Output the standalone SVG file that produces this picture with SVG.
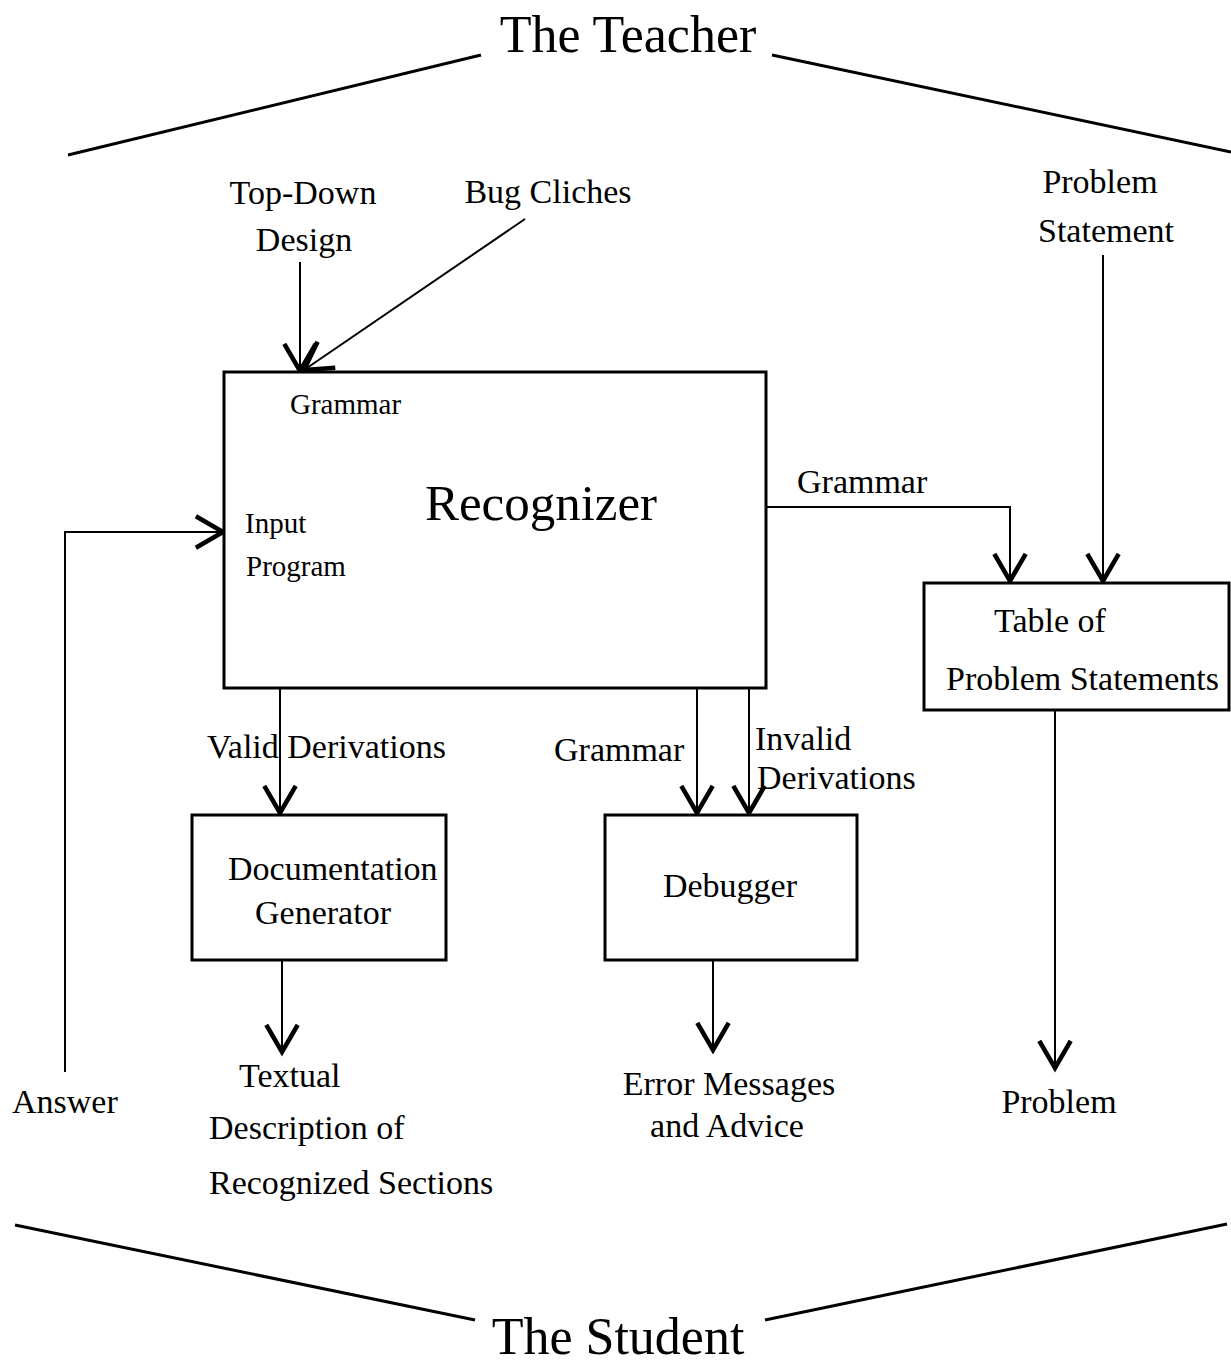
<svg xmlns="http://www.w3.org/2000/svg" width="1231" height="1366" viewBox="0 0 1231 1366">
  <defs>
    <marker id="vee" markerUnits="userSpaceOnUse" markerWidth="40" markerHeight="40" viewBox="-22 -14 26 28" refX="0" refY="0" orient="auto" overflow="visible">
      <path d="M-19,-11 L0,0 L-19,11" fill="none" stroke="#000" stroke-width="3.2" stroke-linejoin="miter"/>
    </marker>
    <style>
      text { font-family: "Liberation Serif", "Times New Roman", serif; fill: #000; }
      .lbl { font-size: 34px; }
      .small { font-size: 29px; }
      .title { font-size: 52px; text-anchor: middle; }
      .mid { text-anchor: middle; }
      .box { fill: #fff; stroke: #000; stroke-width: 3; }
      .wire { fill: none; stroke: #000; stroke-width: 2; marker-end: url(#vee); }
      .frame { fill: none; stroke: #000; stroke-width: 3; }
    </style>
  </defs>

  <rect x="0" y="0" width="1231" height="1366" fill="#fff"/>

  <!-- actor frames -->
  <g id="teacher">
    <polyline class="frame" points="68,155 481,55"/>
    <polyline class="frame" points="772,55 1231,152"/>
    <text class="title" x="628" y="52">The Teacher</text>
  </g>
  <g id="student">
    <polyline class="frame" points="15,1225 475,1320"/>
    <polyline class="frame" points="765,1320 1227,1224"/>
    <text class="title" x="618" y="1354">The Student</text>
  </g>

  <!-- connectors -->
  <g id="connectors">
    <path class="wire" d="M300,262 L300,371"/>
    <path class="wire" d="M525,219 L304,370"/>
    <path class="wire" d="M65,1072 L65,532 L223,532"/>
    <path class="wire" d="M766,507 L1010,507 L1010,581"/>
    <path class="wire" d="M1103,255 L1103,581"/>
    <path class="wire" d="M280,688 L280,813"/>
    <path class="wire" d="M697,688 L697,813"/>
    <path class="wire" d="M749,688 L749,813"/>
    <path class="wire" d="M282,960 L282,1052"/>
    <path class="wire" d="M713,960 L713,1050"/>
    <path class="wire" d="M1055,711 L1055,1068"/>
  </g>

  <!-- inputs from the teacher -->
  <g id="top-down-design">
    <text class="lbl mid" x="303" y="204">Top-Down</text>
    <text class="lbl mid" x="304" y="251">Design</text>
  </g>
  <g id="bug-cliches">
    <text class="lbl mid" x="548" y="203">Bug Cliches</text>
  </g>
  <g id="problem-statement">
    <text class="lbl mid" x="1100" y="193">Problem</text>
    <text class="lbl mid" x="1106" y="242">Statement</text>
  </g>

  <!-- main processing boxes -->
  <g id="recognizer">
    <rect class="box" x="224" y="372" width="542" height="316"/>
    <text class="small" x="290" y="414">Grammar</text>
    <text class="small" x="245" y="533">Input</text>
    <text class="small" x="246" y="576">Program</text>
    <text class="mid" x="541" y="520" font-size="51">Recognizer</text>
  </g>
  <g id="table">
    <rect class="box" x="924" y="583" width="305" height="127"/>
    <text class="lbl" x="994" y="632">Table of</text>
    <text class="lbl" x="946" y="690">Problem Statements</text>
  </g>
  <g id="doc-generator">
    <rect class="box" x="192" y="815" width="254" height="145"/>
    <text class="lbl" x="228" y="880">Documentation</text>
    <text class="lbl mid" x="323" y="924">Generator</text>
  </g>
  <g id="debugger">
    <rect class="box" x="605" y="815" width="252" height="145"/>
    <text class="lbl mid" x="730" y="897">Debugger</text>
  </g>

  <!-- edge labels -->
  <g id="edge-labels">
    <text class="lbl" x="797" y="493">Grammar</text>
    <text class="lbl" x="207" y="758">Valid Derivations</text>
    <text class="lbl" x="554" y="761">Grammar</text>
    <text class="lbl" x="755" y="750">Invalid</text>
    <text class="lbl" x="757" y="789">Derivations</text>
  </g>

  <!-- outputs to the student -->
  <g id="answer">
    <text class="lbl" x="12" y="1113">Answer</text>
  </g>
  <g id="textual-description">
    <text class="lbl" x="239" y="1087">Textual</text>
    <text class="lbl" x="209" y="1139">Description of</text>
    <text class="lbl" x="209" y="1194">Recognized Sections</text>
  </g>
  <g id="error-messages">
    <text class="lbl mid" x="729" y="1095">Error Messages</text>
    <text class="lbl mid" x="727" y="1137">and Advice</text>
  </g>
  <g id="problem">
    <text class="lbl mid" x="1059" y="1113">Problem</text>
  </g>
</svg>
